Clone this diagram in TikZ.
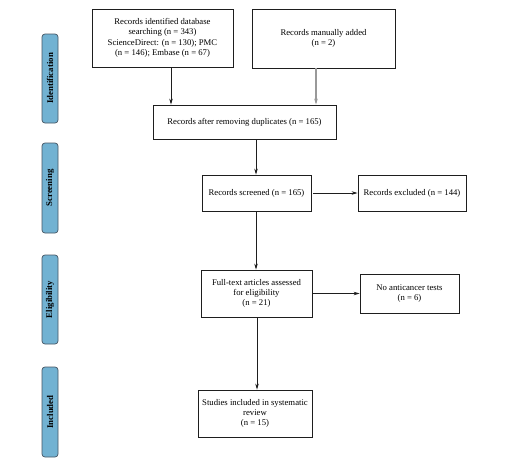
\documentclass[tikz,border=0pt]{standalone}
\usepackage{fontspec}
\setmainfont{Liberation Serif}
\usetikzlibrary{arrows.meta}
\definecolor{barfill}{RGB}{114,178,210}
\definecolor{barline}{RGB}{70,86,100}
\definecolor{linecol}{RGB}{30,30,30}
\begin{document}
\begin{tikzpicture}[x=1pt,y=-1pt,
  box/.style={draw=linecol, line width=0.8pt, align=center, font=\fontsize{8.7}{10.3}\selectfont, inner sep=2pt},
  bar/.style={draw=barline, fill=barfill, rounded corners=3pt, line width=0.7pt, minimum width=16pt, font=\bfseries\fontsize{8.8}{10}\selectfont, inner sep=0pt},
  arr/.style={draw=linecol, line width=0.8pt, -{Stealth[length=6pt,width=3.5pt]}},
  garr/.style={draw=gray!80, line width=1.1pt, -{Stealth[length=6pt,width=3.5pt,fill=linecol]}}]
\useasboundingbox (0,0) rectangle (508,463);
% side bars
\node[bar, minimum height=89pt] (bid) at (50,78.5) {\rotatebox{90}{Identification}};
\node[bar, minimum height=90pt] (bsc) at (50,188) {\rotatebox{90}{Screening}};
\node[bar, minimum height=89pt] (bel) at (50,299.5) {\rotatebox{90}{Eligibility}};
\node[bar, minimum height=90pt] (bin) at (50,412) {\rotatebox{90}{Included}};
% boxes
\node[box, minimum width=141pt, minimum height=58pt] (db) at (162.5,38) {Records identified database\\searching (n = 343)\\ScienceDirect: (n = 130); PMC\\(n = 146); Embase (n = 67)};
\node[box, minimum width=143pt, minimum height=59pt] (man) at (323.5,38.5) {Records manually added\\(n = 2)};
\node[box, minimum width=183pt, minimum height=34pt] (dup) at (244.5,122) {Records after removing duplicates (n = 165)};
\node[box, minimum width=109pt, minimum height=36pt] (scr) at (256.5,193) {Records screened (n = 165)};
\node[box, minimum width=108pt, minimum height=36pt] (exc) at (412,193) {Records excluded (n = 144)};
\node[box, minimum width=111pt, minimum height=47pt] (ft) at (256.5,293.5) {Full-text articles assessed\\for eligibility\\(n = 21)};
\node[box, minimum width=99pt, minimum height=39pt] (noa) at (409.5,293.5) {No anticancer tests\\(n = 6)};
\node[box, minimum width=114pt, minimum height=47pt] (inc) at (255,413.5) {Studies included in systematic\\review\\(n = 15)};
% connectors
\coordinate (c1) at (171,0);
\coordinate (c2) at (316,0);
\coordinate (c3) at (256,0);
\coordinate (c4) at (257,0);
\draw[arr] (db.south -| c1) -- (dup.north -| c1);
\draw[garr] (man.south -| c2) -- (dup.north -| c2);
\draw[arr] (dup.south -| c3) -- (scr.north -| c3);
\draw[arr, shorten <=2pt] (scr.east) -- (exc.west);
\draw[arr] (scr.south -| c3) -- (ft.north -| c3);
\draw[arr] (ft.east) -- (noa.west);
\draw[arr] (ft.south -| c4) -- (inc.north -| c4);
\end{tikzpicture}
\end{document}
